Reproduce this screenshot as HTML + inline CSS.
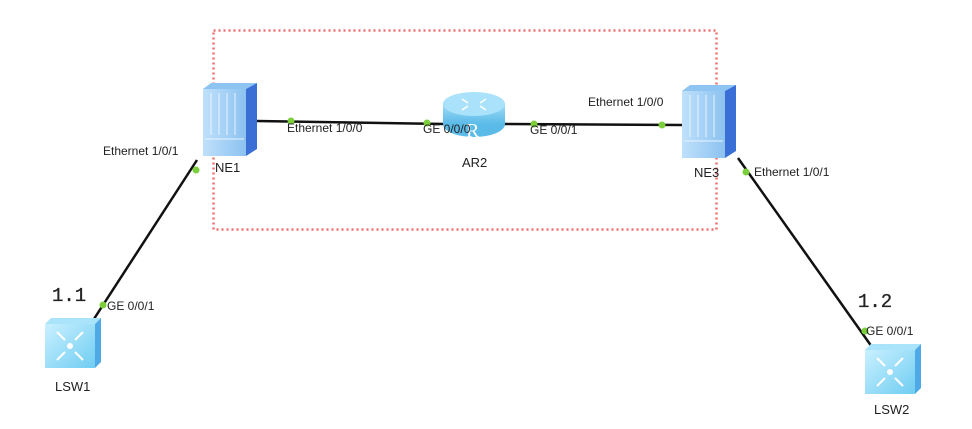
<!DOCTYPE html>
<html><head><meta charset="utf-8"><style>
html,body{margin:0;padding:0;background:#fff;}
svg{display:block;}
text{font-family:"Liberation Sans",sans-serif;font-size:12px;fill:#222;}
.mono{font-family:"Liberation Mono",monospace;font-size:19px;fill:#222;stroke:#222;stroke-width:0.3;}
</style></head><body>
<svg width="972" height="429" viewBox="0 0 972 429" xmlns="http://www.w3.org/2000/svg">
<defs>
<linearGradient id="ne" x1="0" y1="0" x2="1" y2="0"><stop offset="0" stop-color="#bfe0fb"/><stop offset="1" stop-color="#8cc2f0"/></linearGradient>
<linearGradient id="sw" x1="0" y1="0" x2="1" y2="1"><stop offset="0" stop-color="#c9f0ff"/><stop offset="1" stop-color="#6fcdf2"/></linearGradient>
<linearGradient id="rt" x1="0" y1="0" x2="0" y2="1"><stop offset="0" stop-color="#9fdcf7"/><stop offset="1" stop-color="#5bbbe8"/></linearGradient>
<g id="nebox">
<rect x="0" y="6" width="43" height="67" fill="url(#ne)"/>
<polygon points="0,6 8,0 54,0 43,6" fill="#8ec4f2"/>
<polygon points="43,6 54,0 54,66 43,73" fill="#3a6fd6"/>
<g stroke="#e8f4ff" stroke-width="1"><line x1="8" y1="10" x2="8" y2="52"/><line x1="16" y1="10" x2="16" y2="52"/><line x1="24" y1="10" x2="24" y2="52"/><line x1="32" y1="10" x2="32" y2="52"/></g>
<line x1="2" y1="56" x2="41" y2="56" stroke="#e8f4ff"/>
</g>
<g id="swbox">
<polygon points="0,6 6,0 56,0 50,6" fill="#a9e4fb"/>
<rect x="0" y="6" width="50" height="44" fill="url(#sw)"/>
<polygon points="50,6 56,0 56,44 50,50" fill="#4fa9e6"/>
<g stroke="#fff" stroke-width="2" fill="none"><path d="M12 14 l8 8 M12 42 l8-8 M38 14 l-8 8 M38 42 l-8-8"/></g>
<circle cx="25" cy="28" r="3" fill="#fff"/>
</g>
</defs>
<rect x="213.5" y="30.5" width="503" height="199" fill="none" stroke="#f07070" stroke-width="2.5" stroke-dasharray="2,3"/>
<g stroke="#111" stroke-width="2.5">
<line x1="257" y1="121" x2="445" y2="124"/>
<line x1="503" y1="124" x2="682" y2="125"/>
<line x1="197" y1="160" x2="92" y2="322"/>
<line x1="738" y1="158" x2="872" y2="347"/>
</g>
<use href="#nebox" x="203" y="83"/>
<use href="#nebox" x="682" y="85"/>
<g>
<ellipse cx="474" cy="124" rx="31" ry="13" fill="#5bbbe8"/>
<rect x="443" y="104" width="62" height="20" fill="url(#rt)"/>
<ellipse cx="474" cy="104" rx="31" ry="12" fill="#a9e2fa"/>
<g stroke="#fff" stroke-width="1.5" fill="none"><path d="M462 99 l6 4 M486 99 l-6 4 M462 110 l6 -4 M486 110 l-6 -4"/></g>
<text x="466" y="137" style="font-size:20px;fill:#fff;font-family:'Liberation Serif',serif">R</text>
</g>
<use href="#swbox" x="45" y="318"/>
<use href="#swbox" x="865" y="344"/>
<g fill="#7ccf3a">
<circle cx="291" cy="121" r="3.5"/><circle cx="427" cy="123" r="3.5"/>
<circle cx="534" cy="124" r="3.5"/><circle cx="662" cy="125" r="3.5"/>
<circle cx="196" cy="170" r="3.5"/><circle cx="103" cy="305" r="3.5"/>
<circle cx="746" cy="172" r="3.5"/><circle cx="865" cy="331" r="3.5"/>
</g>
<text x="287" y="132">Ethernet 1/0/0</text>
<text x="423" y="133">GE 0/0/0</text>
<text x="530" y="134">GE 0/0/1</text>
<text x="588" y="106">Ethernet 1/0/0</text>
<text x="103" y="155">Ethernet 1/0/1</text>
<text x="754" y="176">Ethernet 1/0/1</text>
<text x="107" y="310">GE 0/0/1</text>
<text x="866" y="335">GE 0/0/1</text>
<text x="215" y="172" style="font-size:13px">NE1</text>
<text x="694" y="177" style="font-size:13px">NE3</text>
<text x="462" y="167" style="font-size:13px">AR2</text>
<text x="55" y="391" style="font-size:13px">LSW1</text>
<text x="874" y="414" style="font-size:13px">LSW2</text>
<text class="mono" x="52" y="301">1.1</text>
<text class="mono" x="858" y="307">1.2</text>
</svg>
</body></html>
